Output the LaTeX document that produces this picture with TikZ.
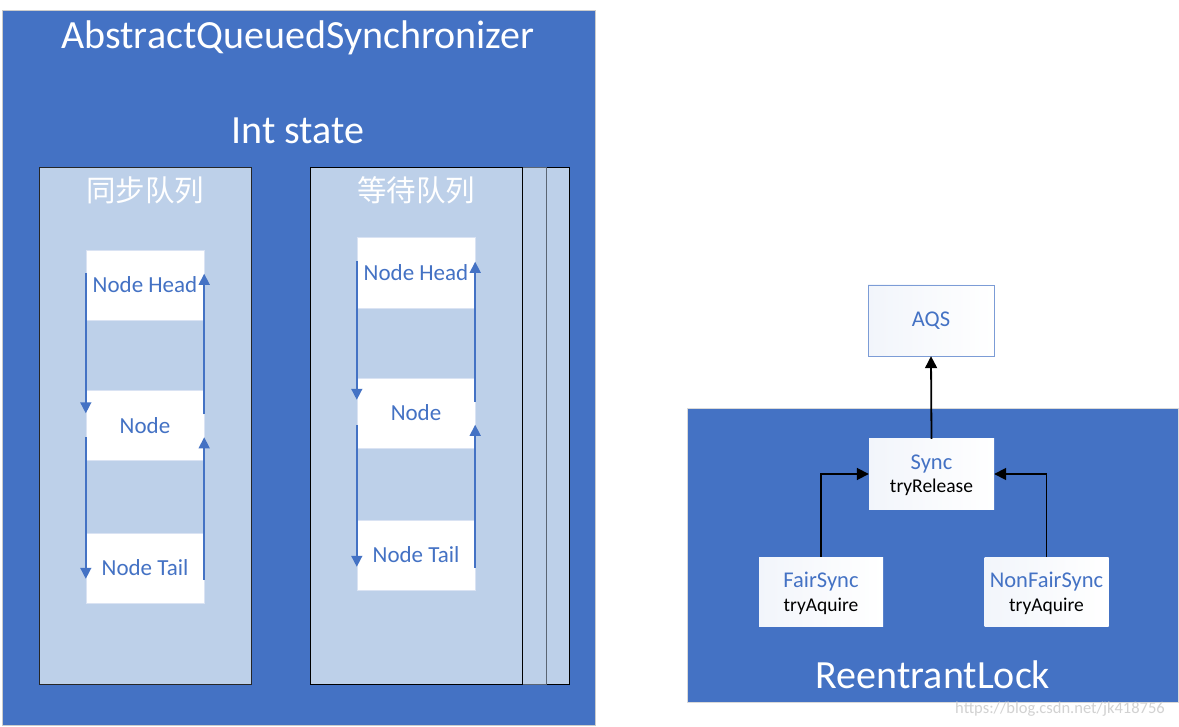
\documentclass[tikz,border=0pt]{standalone}
\usepackage{fontspec}
\setmainfont{Carlito}
\newfontfamily\cjk{Noto Sans CJK SC}
\usepackage{tikz}
\usetikzlibrary{arrows.meta,calc,positioning}
\usepackage{xcolor}
\definecolor{aqsblue}{HTML}{4472C4}
\definecolor{qblue}{HTML}{BDD0E9}
\definecolor{qline}{HTML}{DAE3F3}
\definecolor{edgegray}{HTML}{5B6573}

\begin{document}
\begin{tikzpicture}[x=1pt,y=-1pt,
    qnode/.style={draw=qline,fill=white,minimum width=118pt,minimum height=70pt,inner sep=0pt,
        text=aqsblue,font=\fontsize{23}{23}\selectfont},
    cbox/.style={left color=aqsblue!7,right color=white,minimum width=125pt,minimum height=70pt,inner sep=0pt},
    qarrow/.style={draw=aqsblue,line width=1.5pt,-{Triangle[width=11pt,length=11pt]}},
    karrow/.style={draw=black,line width=1.8pt,-{Triangle[width=12pt,length=12pt]}},
    big/.style={text=white,font=\fontsize{40}{40}\selectfont},
    qtitle/.style={text=white,font=\cjk\fontsize{29.5}{30}\selectfont},
    blue text/.style={text=aqsblue,font=\fontsize{22.5}{23}\selectfont},
    black text/.style={text=black,font=\fontsize{19.5}{20}\selectfont}]
    \useasboundingbox (0,0) rectangle (1179,727);
    \fill[white] (0,0) rectangle (1179,727);
    % AbstractQueuedSynchronizer panel
    \draw[fill=aqsblue,draw=gray!40] (2,10) rectangle (595,725);
    \node[big,anchor=base] (aqsT) at (298,49) {AbstractQueuedSynchronizer};
    \node[big,anchor=base] (stateT) at (298,144) {Int state};
    % sync queue
    \draw[fill=qblue,draw=black!85] (39,167) rectangle (251,684);
    \node[qtitle] (syncQ) at (145,190) {同步队列};
    \node[qnode] (hA) at (145,285) {Node Head};
    \node[qnode] (nA) at (145,425.5) {Node};
    \node[qnode] (tA) at (145,568) {Node Tail};
    \draw[qarrow] ([yshift=-23pt]hA.north west) -- ([yshift=-23pt]nA.north west);
    \draw[qarrow] ([yshift=-47pt]nA.north west) -- ([yshift=-46pt]tA.north west);
    \draw[qarrow] ([yshift=-24pt]nA.north east) -- ([yshift=-24pt]hA.north east);
    \draw[qarrow] ([yshift=-47pt]tA.north east) -- ([yshift=-47pt]nA.north east);
    % wait queues, stacked
    \draw[fill=qblue,draw=black] (358,167) rectangle (569,684);
    \draw[fill=qblue,draw=edgegray,line width=0.8pt] (334,167) rectangle (546,684);
    \draw[fill=qblue,draw=black] (310,167) rectangle (522,684);
    \node[qtitle] (waitQ) at (416,190) {等待队列};
    \node[qnode,minimum height=71pt] (hB) at (416,272.5) {Node Head};
    \node[qnode] (nB) at (416,413) {Node};
    \node[qnode] (tB) at (416,555) {Node Tail};
    \draw[qarrow] ([yshift=-24pt]hB.north west) -- ([yshift=-22pt]nB.north west);
    \draw[qarrow] ([yshift=-47pt]nB.north west) -- ([yshift=-47pt]tB.north west);
    \draw[qarrow] ([yshift=-24pt]nB.north east) -- ([yshift=-25pt]hB.north east);
    \draw[qarrow] ([yshift=-48pt]tB.north east) -- ([yshift=-47pt]nB.north east);
    % ReentrantLock
    \node[cbox,draw=aqsblue!70,minimum width=126pt,minimum height=71pt,blue text] (aqs) at (931,320.5) {AQS};
    \draw[fill=aqsblue,draw=gray!30] (687,408) rectangle (1178,702);
    \node[cbox] (sync) at (931.5,474) {};
    \node[cbox,minimum width=124pt,minimum height=69pt] (fair) at (821,591.5) {};
    \node[cbox,minimum width=124pt,minimum height=69pt] (nonfair) at (1046.5,591.5) {};
    \node[blue text,anchor=base] (syncN) at ([yshift=5pt]sync.center) {Sync};
    \node[black text,anchor=base] (syncM) at ([yshift=-19pt]sync.center) {tryRelease};
    \node[blue text,anchor=base] (fairN) at ([yshift=4.5pt]fair.center) {FairSync};
    \node[black text,anchor=base] (fairM) at ([yshift=-19.5pt]fair.center) {tryAquire};
    \node[blue text,anchor=base] (nonfairN) at ([yshift=4.5pt]nonfair.center) {NonFairSync};
    \node[black text,anchor=base] (nonfairM) at ([yshift=-19.5pt]nonfair.center) {tryAquire};
    \draw[karrow] (sync.north) -- (aqs.south);
    \draw[karrow] (fair.north) |- (sync.west);
    \draw[karrow] (nonfair.north) |- (sync.east);
    \node[big,anchor=base] (lockT) at (933,688) {ReentrantLock};
    \node[text=gray!35,font=\fontsize{16.5}{17}\selectfont] (mark) at (1060,709) {https://blog.csdn.net/jk418756};
\end{tikzpicture}
\end{document}
